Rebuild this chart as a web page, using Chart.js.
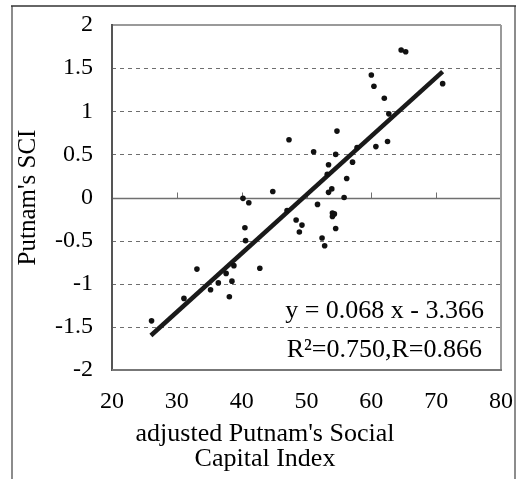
<!DOCTYPE html>
<html>
<head>
<meta charset="utf-8">
<script src="https://cdn.jsdelivr.net/npm/chart.js@4"></script>
<style>
  html, body { margin: 0; padding: 0; background: #ffffff; }
  #wrap { position: relative; width: 517px; height: 479px; }
</style>
</head>
<body>
<div id="wrap"><canvas id="sci-chart"></canvas></div>
<script>
const FONT_FAMILY = "'Liberation Serif', 'Times New Roman', serif";
const GRID_COLOR = "#6e6e6e";
const MARK_COLOR = "#111111";

// adjusted Putnam's Social Capital Index (x) vs Putnam's SCI (y)
const indexValues = [
  26.1, 31.1, 33.1, 35.2, 36.4, 37.6, 38.1, 38.5, 38.8, 40.2, 41.1, 40.5,
  40.6, 42.8, 44.8, 47.0, 47.3, 48.4, 48.9, 49.3, 51.1, 51.7, 52.4, 52.8,
  53.4, 53.2, 53.4, 53.9, 54.0, 54.3, 54.0, 54.5, 54.7, 54.5, 55.8, 56.2,
  57.1, 57.8, 60.0, 60.4, 60.7, 62.0, 62.5, 62.7, 64.6, 65.3, 71.0,
];
const sciValues = [
  -1.43, -1.17, -0.83, -1.07, -0.99, -0.88, -1.15, -0.97, -0.79, -0.01, -0.06, -0.35,
  -0.5, -0.82, 0.07, -0.15, 0.67, -0.26, -0.4, -0.32, 0.53, -0.08, -0.47, -0.56,
  0.38, 0.27, 0.06, 0.1, -0.18, -0.19, -0.22, 0.5, 0.77, -0.36, 0.0, 0.22,
  0.41, 0.58, 1.42, 1.29, 0.59, 1.15, 0.65, 0.97, 1.71, 1.69, 1.32,
];

// fitted line end points as drawn in the figure
const fitX = [26, 71];
const fitY = [-1.6, 1.46];

const xTickLabels = ["20", "30", "40", "50", "60", "70", "80"];
const yTickLabels = ["-2", "-1.5", "-1", "-0.5", "0", "0.5", "1", "1.5", "2"];

const X_TITLE = ["adjusted Putnam's Social", "Capital Index"];
const Y_TITLE = "Putnam's SCI";
const FIT_TEXT = ["y = 0.068 x - 3.366", "R\u00B2=0.750,R=0.866"];

function strokeLine(ctx, x1, y1, x2, y2) {
  ctx.beginPath();
  ctx.moveTo(x1, y1);
  ctx.lineTo(x2, y2);
  ctx.stroke();
}

// dashed grid, zero line with up-ticks, plot frame and outer figure frame
const framePlugin = {
  id: "frame",
  beforeDatasetsDraw(chart) {
    const { ctx, chartArea: a, scales } = chart;
    const left = Math.round(a.left);
    const right = Math.round(a.right);
    const top = Math.round(a.top);
    const bottom = Math.round(a.bottom);
    ctx.save();

    ctx.strokeStyle = GRID_COLOR;
    ctx.lineWidth = 1;
    ctx.setLineDash([4, 4]);
    scales.y.ticks.forEach((t) => {
      if (t.value === 0) return;
      const py = Math.round(scales.y.getPixelForValue(t.value)) + 0.5;
      strokeLine(ctx, left, py, right, py);
    });
    ctx.setLineDash([]);

    const y0 = Math.round(scales.y.getPixelForValue(0)) + 0.5;
    ctx.strokeStyle = "#707070";
    ctx.lineWidth = 1.5;
    strokeLine(ctx, left, y0, right, y0);
    ctx.lineWidth = 1;
    scales.x.ticks.forEach((t) => {
      const px = Math.round(scales.x.getPixelForValue(t.value)) + 0.5;
      strokeLine(ctx, px, y0, px, y0 - 6);
    });

    // plot frame: lighter top/right, darker left/bottom
    ctx.lineWidth = 2;
    ctx.strokeStyle = "#9a9a9a";
    strokeLine(ctx, left, top, right, top);
    strokeLine(ctx, right, top, right, bottom);
    ctx.strokeStyle = "#555555";
    strokeLine(ctx, left, top - 1, left, bottom + 1);
    ctx.strokeStyle = "#777777";
    strokeLine(ctx, left, bottom, right + 1, bottom);

    // outer figure frame
    ctx.strokeStyle = "#8c8c8c";
    ctx.lineWidth = 2;
    strokeLine(ctx, 12, 6, 12, chart.height);
    strokeLine(ctx, 515, 6, 515, chart.height);
    ctx.strokeStyle = "#333333";
    ctx.lineWidth = 1.5;
    strokeLine(ctx, 11, 6, 516, 6);
    ctx.restore();
  },
  afterDraw(chart) {
    const { ctx, chartArea: a } = chart;
    ctx.save();
    ctx.fillStyle = "#000000";
    ctx.textBaseline = "alphabetic";

    // x title sits left of the plot centre in the original
    ctx.font = "26px " + FONT_FAMILY;
    ctx.textAlign = "center";
    const cx = a.left + 153;
    ctx.fillText(X_TITLE[0], cx, a.bottom + 71);
    ctx.fillText(X_TITLE[1], cx, a.bottom + 96);

    // regression text, right aligned inside the plot
    ctx.font = "26px " + FONT_FAMILY;
    ctx.textAlign = "right";
    ctx.fillText(FIT_TEXT[0], a.right - 17, a.bottom - 52);
    ctx.fillText(FIT_TEXT[1], a.right - 19, a.bottom - 13);
    ctx.restore();
  },
};

function renderChart() {
  const ctx = document.getElementById("sci-chart").getContext("2d");
  Chart.defaults.font.family = FONT_FAMILY;
  Chart.defaults.color = "#000000";

  const points = indexValues.map((x, i) => ({ x: x, y: sciValues[i] }));
  const fitLine = fitX.map((x, i) => ({ x: x, y: fitY[i] }));

  new Chart(ctx, {
    type: "scatter",
    data: {
      datasets: [
        {
          label: "SCI",
          data: points,
          backgroundColor: MARK_COLOR,
          borderColor: MARK_COLOR,
          pointRadius: 2.8,
          borderWidth: 0,
        },
        {
          type: "line",
          label: "fit",
          data: fitLine,
          borderColor: "#1a1a1a",
          borderWidth: 4.5,
          pointRadius: 0,
          fill: false,
        },
      ],
    },
    options: {
      responsive: true,
      maintainAspectRatio: false,
      animation: false,
      layout: { autoPadding: false, padding: { top: 25, right: 16, left: 0, bottom: 0 } },
      scales: {
        x: {
          type: "linear",
          min: 20,
          max: 80,
          grid: { display: false, drawTicks: false },
          border: { display: false },
          ticks: {
            stepSize: 10,
            padding: 17,
            maxRotation: 0,
            font: { size: 24 },
            color: "#000000",
            callback: (value, index) => xTickLabels[index],
          },
          afterFit: (scale) => {
            scale.height = 109;
            // tick padding would otherwise shrink the plot area
            scale.paddingLeft = 0;
            scale.paddingRight = 0;
          },
        },
        y: {
          min: -2,
          max: 2,
          grid: { display: false, drawTicks: false },
          border: { display: false },
          ticks: {
            stepSize: 0.5,
            padding: 19,
            font: { size: 24 },
            color: "#000000",
            callback: (value, index) => yTickLabels[index],
          },
          title: {
            display: true,
            text: Y_TITLE,
            font: { size: 25 },
            color: "#000000",
            padding: { top: 13, bottom: 0 },
          },
          afterFit: (scale) => {
            scale.width = 112;
            scale.paddingTop = 0;
            scale.paddingBottom = 0;
          },
        },
      },
      plugins: {
        legend: { display: false },
        tooltip: { enabled: false },
      },
    },
    plugins: [framePlugin],
  });
}

window.addEventListener("DOMContentLoaded", renderChart);
</script>
</body>
</html>
